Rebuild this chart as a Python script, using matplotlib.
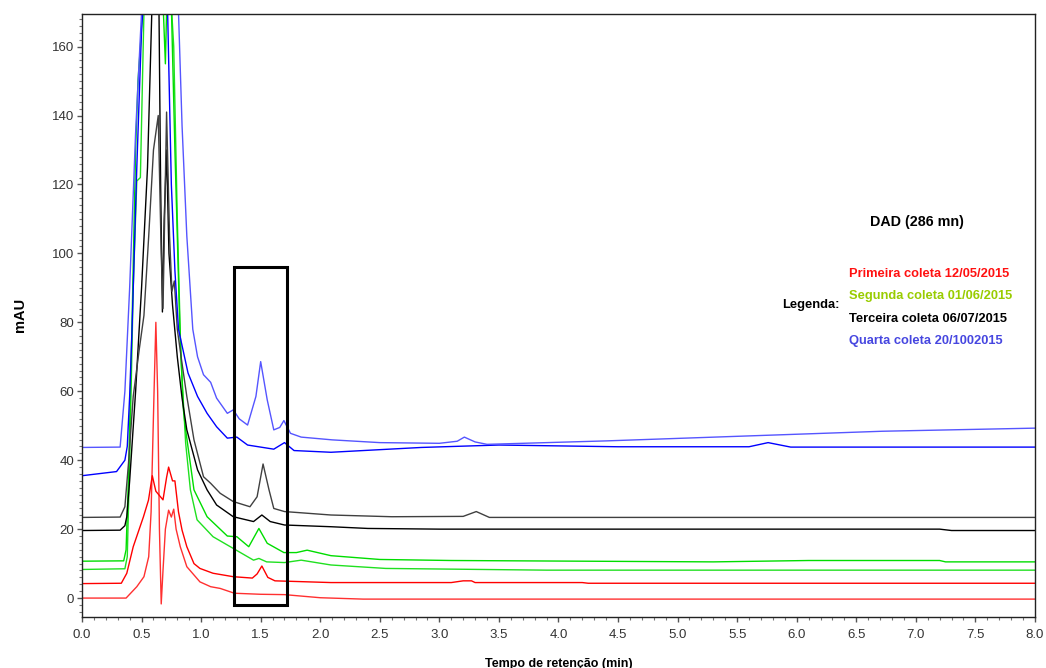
import matplotlib
matplotlib.use("Agg")
import matplotlib.pyplot as plt
from matplotlib.patches import Rectangle
from matplotlib.ticker import MultipleLocator

red_lo_t = [0, 0.37, 0.46, 0.52, 0.56, 0.58, 0.605, 0.62, 0.635, 0.65, 0.665, 0.68, 0.70, 0.727, 0.75, 0.77, 0.79, 0.825, 0.88, 0.94, 0.99, 1.08, 1.16, 1.28, 1.5, 1.7, 2.0, 2.36, 8.0]
red_lo_y = [0, 0, 3.3, 6.2, 12, 25, 60, 80, 60, 20, -1.7, 8, 20, 25.5, 23.5, 25.8, 20, 14.9, 9.1, 6.7, 4.7, 3.3, 2.8, 1.4, 1.1, 1.0, 0.1, -0.3, -0.3]

red_hi_t = [0, 0.33, 0.376, 0.43, 0.516, 0.558, 0.59, 0.62, 0.68, 0.71, 0.727, 0.76, 0.78, 0.81, 0.84, 0.88, 0.94, 0.99, 1.1, 1.27, 1.43, 1.47, 1.51, 1.56, 1.62, 2.09, 3.1, 3.2, 3.27, 3.3, 4.2, 4.25, 8.0]
red_hi_y = [4.2, 4.3, 7.2, 14.9, 23.6, 28.4, 35.5, 31, 28.5, 35, 38, 34, 34, 25, 19.7, 14.9, 10, 8.6, 7.2, 6.2, 5.8, 7, 9.3, 6, 5, 4.5, 4.5, 5.0, 5.0, 4.5, 4.5, 4.3, 4.3]

grn_lo_t = [0, 0.36, 0.38, 0.40, 0.43, 0.46, 0.49, 0.52, 0.56, 0.66, 0.72, 0.77, 0.80, 0.83, 0.87, 0.91, 0.966, 1.1, 1.27, 1.44, 1.485, 1.55, 1.7, 1.84, 2.09, 2.55, 3.9, 8.0]
grn_lo_y = [8.3, 8.5, 12, 40, 90, 121, 122, 170, 200, 210, 190, 160, 110, 70, 45, 31.4, 22.7, 17.8, 14.4, 11, 11.5, 10.5, 10.3, 11, 9.6, 8.6, 8.1, 8.1]

grn_hi_t = [0, 0.35, 0.37, 0.39, 0.42, 0.45, 0.47, 0.50, 0.52, 0.58, 0.65, 0.70, 0.73, 0.78, 0.82, 0.85, 0.87, 0.94, 1.05, 1.22, 1.30, 1.40, 1.485, 1.555, 1.695, 1.8, 1.89, 2.09, 2.5, 3.1, 5.3, 6.1, 7.2, 7.25, 8.0]
grn_hi_y = [10.7, 10.8, 14, 35, 80, 130, 150, 165, 180, 210, 200, 155, 200, 130, 80, 55, 48.8, 31.4, 23.6, 18, 17.8, 14.9, 20.2, 15.9, 13.2, 13.2, 13.9, 12.3, 11.2, 10.9, 10.5, 10.9, 10.9, 10.5, 10.5]

blk_lo_t = [0, 0.32, 0.36, 0.376, 0.40, 0.45, 0.50, 0.55, 0.59, 0.62, 0.645, 0.66, 0.675, 0.69, 0.71, 0.73, 0.76, 0.80, 0.84, 0.88, 0.97, 1.05, 1.13, 1.27, 1.44, 1.51, 1.58, 1.7, 2.09, 2.4, 3.0, 7.2, 7.3, 8.0]
blk_lo_y = [19.6, 19.7, 21, 23.6, 34, 60, 90, 125, 175, 200, 175, 120, 83, 110, 130, 100, 85, 70, 58, 48.8, 37.2, 31.4, 27, 23.6, 22.2, 24.1, 22.2, 21.2, 20.7, 20.2, 20.0, 20.0, 19.6, 19.6]

blk_hi_t = [0, 0.32, 0.36, 0.39, 0.43, 0.48, 0.52, 0.56, 0.60, 0.64, 0.665, 0.68, 0.71, 0.735, 0.755, 0.775, 0.80, 0.84, 0.88, 0.94, 1.02, 1.08, 1.16, 1.27, 1.41, 1.47, 1.52, 1.57, 1.61, 1.7, 2.09, 2.6, 3.2, 3.31, 3.42, 8.0]
blk_hi_y = [23.4, 23.5, 26.5, 39, 58.5, 72, 82, 105, 130, 140, 100, 84, 141, 105, 89, 92, 78, 68, 58.5, 45.9, 35.2, 33.3, 30.4, 28, 26.5, 29.4, 38.9, 31.4, 26, 25.1, 24.1, 23.6, 23.7, 25.1, 23.4, 23.4]

blu_lo_t = [0, 0.29, 0.36, 0.38, 0.40, 0.42, 0.46, 0.50, 0.53, 0.60, 0.66, 0.70, 0.75, 0.78, 0.81, 0.89, 0.97, 1.05, 1.13, 1.22, 1.30, 1.39, 1.5, 1.61, 1.7, 1.78, 2.09, 2.85, 3.5, 4.5, 5.6, 5.76, 5.95, 8.0]
blu_lo_y = [35.5, 36.7, 40, 44, 58.5, 78, 125, 165, 180, 210, 180, 200, 120, 95, 78, 65.3, 58.5, 53.6, 49.7, 46.4, 46.7, 44.4, 43.8, 43.2, 45.1, 42.8, 42.3, 43.7, 44.4, 43.9, 43.9, 45.1, 43.8, 43.8]

blu_hi_t = [0, 0.32, 0.36, 0.40, 0.45, 0.50, 0.55, 0.62, 0.68, 0.72, 0.78, 0.81, 0.84, 0.88, 0.93, 0.97, 1.02, 1.08, 1.13, 1.22, 1.27, 1.32, 1.39, 1.46, 1.50, 1.555, 1.61, 1.66, 1.695, 1.75, 1.84, 2.1, 2.5, 3.0, 3.15, 3.21, 3.3, 3.4, 4.4, 5.56, 6.72, 8.0]
blu_hi_y = [43.7, 43.8, 60, 90, 135, 170, 200, 220, 200, 210, 185, 170, 137, 105, 78, 70, 64.8, 62.6, 58, 53.6, 54.6, 52, 50.2, 58.5, 68.6, 57.5, 48.8, 49.5, 51.5, 47.8, 46.7, 45.9, 45.1, 44.9, 45.5, 46.7, 45.3, 44.6, 45.6, 47, 48.4, 49.3]

legend_labels = ["Primeira coleta 12/05/2015", "Segunda coleta 01/06/2015",
                 "Terceira coleta 06/07/2015", "Quarta coleta 20/1002015"]
legend_colors = ["#ff1010", "#99cc00", "#000000", "#4646e0"]

box_x, box_w = 1.28, 0.44   # caixa de destaque
box_y, box_h = -2.0, 98.0

plt.rcParams['font.family'] = ["Liberation Sans", "DejaVu Sans"]

fig = plt.figure(figsize=(10.46, 6.68), dpi=100)
ax = fig.add_axes([0.0784, 0.0763, 0.911, 0.903])

lw = 1.0
ax.plot(red_lo_t, red_lo_y, color="#ff3030", lw=lw)
ax.plot(red_hi_t, red_hi_y, color="#ff0000", lw=lw)
ax.plot(grn_lo_t, grn_lo_y, color="#20e020", lw=lw)
ax.plot(grn_hi_t, grn_hi_y, color="#00dd00", lw=lw)
ax.plot(blk_lo_t, blk_lo_y, color="#000000", lw=lw)
ax.plot(blk_hi_t, blk_hi_y, color="#404040", lw=lw)
ax.plot(blu_lo_t, blu_lo_y, color="#0000ff", lw=lw)
ax.plot(blu_hi_t, blu_hi_y, color="#5555ff", lw=lw)

ax.add_patch(Rectangle((box_x, box_y), box_w, box_h, fill=False, ec="black", lw=2.2, zorder=5))

ax.set_xlim(0, 8.0)
ax.set_ylim(-5.5, 169.5)
ax.xaxis.set_major_locator(MultipleLocator(0.5))
ax.xaxis.set_minor_locator(MultipleLocator(0.1))
ax.yaxis.set_major_locator(MultipleLocator(20))
ax.yaxis.set_minor_locator(MultipleLocator(2))
ax.xaxis.set_major_formatter(matplotlib.ticker.FormatStrFormatter("%.1f"))
ax.tick_params(which="major", length=3.5, width=1, colors="#555555", labelcolor="#333333", labelsize=9.5, pad=2)
ax.tick_params(axis="x", which="major", pad=5)
ax.tick_params(which="minor", length=2, width=0.8, colors="#777777")
for s in ax.spines.values():
    s.set_color("#222222")
    s.set_linewidth(1.0)

ax.set_xlabel("Tempo de retenção (min)", fontsize=9, fontweight="bold", labelpad=12)
ax.set_ylabel("mAU", fontsize=10.5, fontweight="bold", labelpad=18)

ax.text(7.01, 109, "DAD (286 mn)", fontsize=10.3, fontweight="bold", ha="center", va="center")
ax.text(5.88, 85, "Legenda:", fontsize=9.3, fontweight="bold", ha="left", va="center")
for i, (lab, col) in enumerate(zip(legend_labels, legend_colors)):
    ax.text(6.44, 94 - i * 6.5, lab, fontsize=9.3, fontweight="bold", color=col,
            ha="left", va="center")

fig.savefig("out.png", dpi=100)
